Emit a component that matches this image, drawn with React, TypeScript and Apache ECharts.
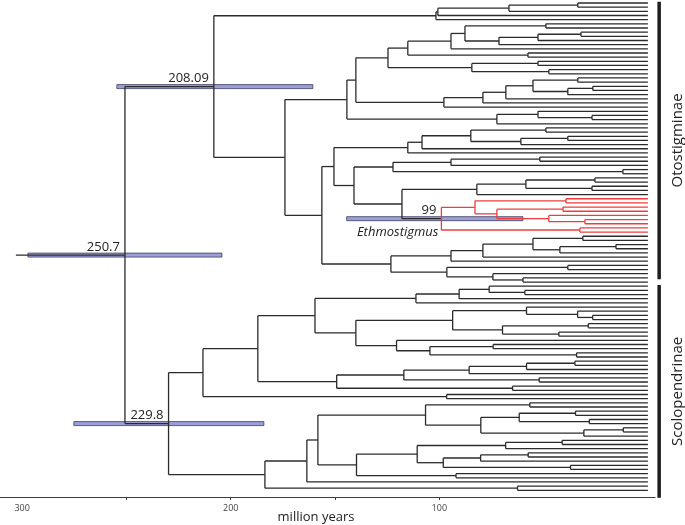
import React, { useEffect, useRef } from "react";
import * as echarts from "echarts";

// ---------------- data: dated tree (Newick-like; "t" = tip, number after ")" = node age in Ma, "r" = red clade) ----
const OTO_TOP = "((((t,t)33.6,t)66.6,t)100.7,t)101.6";
const OTO_L = "(((((t,t)48.9,(((t,t)32.1,t)52.7,t)71.4)87.7,t)94.4,(t,t)57.5)115.1,((t,t)52.7,(t,t)47.5)84.4)124.6";
const OTO_S = "(((((t,t)33.6,((t,t)26.4,t)38.4)55.1,t)68.1,t)79.1,t)97.8";
const OTO_U = "((t,(t,t)26.8)52.7,t)72.4";
const OTO_AB = "((((t,t)48.9,((t,t)38.4,t)60.9)84.9,t)108.3,t)115.1";
const OTO_AD = "(((t,t)51.8,t)94.4,(t,t)12.0)122.2";
const OTO_AE1 = "(((t,t)25.4,(t,t)26.8)58.5,t)82.0";
const ETHMOSTIGMUS = "(((t,t)39.3,((t,t)40.7,(t,(t,t)30.2)47.5)72.4)82.9,(t,t)32.6)99r";
const OTO_N533 = "((t,t)31.2,((t,t)15.3,t)42.2)55.1";
const OTO_N447 = "((t,t)38.4,(t,(t,t)59.9)74.3)96.4";

const SCO_N416 = "(((t,(t,t)59.0)76.1,t)90.5,t)111.2";
const SCO_N590 = "(t,(t,(t,t)26.5)33.7)58.2";
const SCO_N518 = "((t,t)28.6,(t,t)42.7)69.7";
const SCO_N397 = "(t,((t,t)74.2,(t,t)34.2)104.5)120.5";
const SCO_N404 = "((((t,t)35.0,t)58.2,t)85.7,(t,t)52.1)117.0";
const SCO_N426 = "((t,t)56.6,(((t,t)34.7,(t,t)28.1)61.7,((t,t)11.8,t)30.7)80.1)106.6";
const SCO_N357 = "((((t,t)41.1,t)68.2,(((t,t)57.4,t)80.2,(t,t)37.1)98.1)110.6,(t,t)92.0)139.7";

const OTO_X = `((${OTO_L},${OTO_S})140.0,${OTO_U})144.3`;
const OTO_AC = `(${OTO_AD},(${OTO_AE1},${ETHMOSTIGMUS})117.9)140.9`;
const OTO_N391 = `(((${OTO_N533},t)79.1,t)94.4,${OTO_N447})123.2`;
const OTO_Z2 = `((${OTO_AB},${OTO_AC})150.5,${OTO_N391})156.3`;
const OTOSTIGMINAE = `(${OTO_TOP},(${OTO_X},${OTO_Z2})174.0)208.09`;

const SCO_N315 = `(${SCO_N416},((${SCO_N590},${SCO_N518})93.6,${SCO_N397})140.0)159.6`;
const SCO_N258 = `(${SCO_N315},(${SCO_N404},(t,t)64.9)149.2)187.0`;
const SCO_UPPER = `(${SCO_N258},(t,t)96.5)213.3`;
const SCO_LOWER = `(((${SCO_N426},${SCO_N357})158.2,t)163.5,(t,t)62.5)183.6`;
const SCOLOPENDRINAE = `(${SCO_UPPER},${SCO_LOWER})229.8`;

const TREE = `(${OTOSTIGMINAE},${SCOLOPENDRINAE})250.7`;
const ROOT_STEM_AGE = 303;

// 95% HPD intervals of dated nodes
const HPD_AGES = [250.7, 229.8, 208.09, 99];
const HPD_LOW = [204.2, 184.1, 160.6, 59.9];
const HPD_HIGH = [297.2, 275.2, 254.6, 144.4];
const HPD_LABELS = ["250.7", "229.8", "208.09", "99"];
const RED_CLADE_NAME = "Ethmostigmus";

// clades (tip-index spans) on the right
const CLADE_NAMES = ["Otostigminae", "Scolopendrinae"];
const CLADE_FROM = [-0.3, 67.7];
const CLADE_TO = [66.3, 118.8];

// x axis
const TICK_VALUES = [100, 150, 200, 250];
const LABEL_VALUES = [100, 200, 300];
const X_MIN = -3.4;
const X_MAX = 310.6;

const BLACK = "#2b2b2b";
const RED = "#f03c3c";
const FONT = '"Open Sans", "DejaVu Sans", sans-serif';

type TNode = { children: TNode[]; age: number; red?: boolean; inRed?: boolean; y?: number };

function parseTree(src: string): TNode {
  const s = src.replace(/\s+/g, "");
  let i = 0;
  const node = (): TNode => {
    if (s[i] === "(") {
      i++;
      const children = [node()];
      while (s[i] === ",") {
        i++;
        children.push(node());
      }
      i++;
      let num = "";
      while (i < s.length && /[0-9.]/.test(s[i])) num += s[i++];
      let red = false;
      if (s[i] === "r") {
        red = true;
        i++;
      }
      if (!num && children.length === 1) return children[0];
      return { children, age: parseFloat(num), red };
    }
    i++;
    return { children: [], age: 0 };
  };
  return node();
}

function buildSegments() {
  const root = parseTree(TREE);
  let tip = 0;
  const all: TNode[] = [];
  const lay = (n: TNode, inRed: boolean) => {
    n.inRed = inRed || !!n.red;
    all.push(n);
    if (!n.children.length) {
      n.y = tip++;
      return;
    }
    n.children.forEach((c) => lay(c, !!n.inRed));
    n.y = (n.children[0].y! + n.children[n.children.length - 1].y!) / 2;
  };
  lay(root, false);
  const segs: number[][] = [];
  all.forEach((n) => {
    if (!n.children.length) return;
    const col = n.inRed ? 1 : 0;
    segs.push([n.age, n.children[0].y!, n.age, n.children[n.children.length - 1].y!, col]);
    n.children.forEach((c) => segs.push([n.age, c.y!, c.age, c.y!, col]));
  });
  segs.push([ROOT_STEM_AGE, root.y!, root.age, root.y!, 0]);
  const yOfAge = (a: number) => {
    const f = all.find((n) => n.children.length && Math.abs(n.age - a) < 1e-6);
    return f ? f.y! : 0;
  };
  return { segs, yOfAge, tips: tip };
}

export default function App() {
  const ref = useRef<HTMLDivElement>(null);
  useEffect(() => {
    if (!ref.current) return;
    const chart = echarts.init(ref.current, null, { renderer: "svg" });
    const { segs, yOfAge } = buildSegments();
    const hpdData = HPD_AGES.map((a, k) => [HPD_LOW[k], HPD_HIGH[k], yOfAge(a), a, k]);
    const cladeData = CLADE_NAMES.map((n, k) => [0, CLADE_FROM[k], CLADE_TO[k], k]);

    chart.setOption({
      animation: false,
      grid: { left: 0, right: 30, top: 0, bottom: 28, containLabel: false },
      xAxis: {
        type: "value",
        inverse: true,
        min: X_MIN,
        max: X_MAX,
        position: "bottom",
        axisLine: { show: true, onZero: false, lineStyle: { color: "#3a3a3a", width: 1.2 } },
        axisTick: { show: true, customValues: TICK_VALUES, length: 3, lineStyle: { color: "#3a3a3a" } },
        axisLabel: { customValues: LABEL_VALUES, fontSize: 9, color: "#444", margin: 6, fontFamily: FONT },
        splitLine: { show: false },
      },
      yAxis: { type: "value", inverse: true, min: -0.72, max: 118.61, show: false },
      graphic: [
        {
          type: "text",
          x: 316,
          y: 516,
          style: { text: "million years", font: `13px ${FONT}`, fill: "#222", align: "center", verticalAlign: "middle" },
        },
      ],
      series: [
        {
          type: "custom",
          coordinateSystem: "cartesian2d",
          silent: true,
          z: 2,
          data: hpdData,
          encode: { x: [0, 1], y: 2 },
          renderItem: (params: any, api: any) => {
            const lo = api.coord([api.value(0), api.value(2)]);
            const hi = api.coord([api.value(1), api.value(2)]);
            const nd = api.coord([api.value(3), api.value(2)]);
            const k = api.value(4);
            const x0 = Math.min(lo[0], hi[0]);
            const w = Math.abs(lo[0] - hi[0]);
            const children: any[] = [
              {
                type: "rect",
                shape: { x: x0, y: nd[1] - 2, width: w, height: 4 },
                style: { fill: "#9c9fd6", stroke: "#3d3e62", lineWidth: 0.8 },
              },
              {
                type: "text",
                style: {
                  text: HPD_LABELS[k],
                  x: nd[0] - 5,
                  y: nd[1] - 3,
                  align: "right",
                  verticalAlign: "bottom",
                  font: `13px ${FONT}`,
                  fill: "#222",
                },
              },
            ];
            if (HPD_AGES[k] === 99) {
              children.push({
                type: "text",
                style: {
                  text: RED_CLADE_NAME,
                  x: nd[0] - 3,
                  y: nd[1] + 12.5,
                  align: "right",
                  verticalAlign: "middle",
                  font: `italic 13px ${FONT}`,
                  fill: "#222",
                },
              });
            }
            return { type: "group", children };
          },
        },
        {
          type: "custom",
          coordinateSystem: "cartesian2d",
          silent: true,
          z: 3,
          data: segs,
          encode: { x: [0, 2], y: [1, 3] },
          renderItem: (params: any, api: any) => {
            const p1 = api.coord([api.value(0), api.value(1)]);
            const p2 = api.coord([api.value(2), api.value(3)]);
            return {
              type: "line",
              shape: { x1: p1[0], y1: p1[1], x2: p2[0], y2: p2[1] },
              style: { stroke: api.value(4) ? RED : BLACK, lineWidth: 1.3 },
            };
          },
        },
        {
          type: "custom",
          coordinateSystem: "cartesian2d",
          silent: true,
          z: 3,
          clip: false,
          data: cladeData,
          encode: { x: 0, y: [1, 2] },
          renderItem: (params: any, api: any) => {
            const a = api.coord([api.value(0), api.value(1)]);
            const b = api.coord([api.value(0), api.value(2)]);
            const k = api.value(3);
            const bx = a[0] + 9.5;
            return {
              type: "group",
              children: [
                { type: "rect", shape: { x: bx, y: a[1], width: 3.5, height: b[1] - a[1] }, style: { fill: "#1e1e1e" } },
                {
                  type: "text",
                  x: bx + 19,
                  y: (a[1] + b[1]) / 2,
                  rotation: Math.PI / 2,
                  style: {
                    text: CLADE_NAMES[k],
                    x: 0,
                    y: 0,
                    align: "center",
                    verticalAlign: "middle",
                    font: `15px ${FONT}`,
                    fill: "#222",
                  },
                },
              ],
            };
          },
        },
      ],
    });
    return () => chart.dispose();
  }, []);
  return <div ref={ref} style={{ position: "fixed", left: 0, top: 0, width: 685, height: 525 }} />;
}
